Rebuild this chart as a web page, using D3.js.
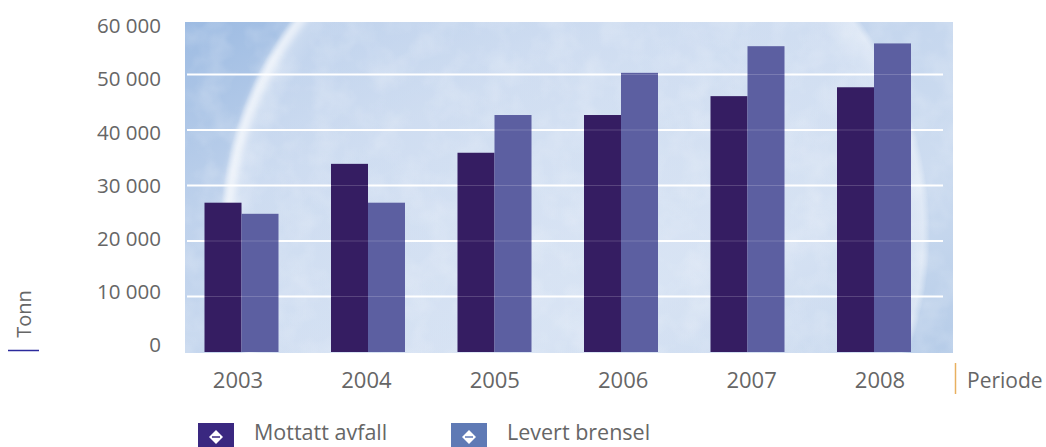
<!DOCTYPE html>
<html><head><meta charset="utf-8">
<script src="https://cdn.jsdelivr.net/npm/d3@7"></script>
<style>
html,body{margin:0;padding:0;background:#fff;}
svg{display:block;font-family:"Open Sans","Noto Sans",sans-serif;}
</style></head>
<body>
<svg id="c" width="1046" height="447"></svg>
<script>
const years = ["2003","2004","2005","2006","2007","2008"];
const mottatt = [26900, 33900, 35900, 42700, 46100, 47700];
const levert = [24900, 26900, 42700, 50300, 55100, 55600];
const seriesNames = ["Mottatt avfall", "Levert brensel"];
const yTicks = [0, 10000, 20000, 30000, 40000, 50000, 60000];
const yTickLabels = ["0", "10 000", "20 000", "30 000", "40 000", "50 000", "60 000"];

const svg = d3.select("#c");
const defs = svg.append("defs");

const sky = defs.append("linearGradient").attr("id","sky").attr("x1","0").attr("y1","0").attr("x2","1").attr("y2","1");
sky.append("stop").attr("offset","0").attr("stop-color","#9dbbe2");
sky.append("stop").attr("offset","0.3").attr("stop-color","#bfd2ec");
sky.append("stop").attr("offset","0.7").attr("stop-color","#cddcf0");
sky.append("stop").attr("offset","1").attr("stop-color","#b6cce8");
const moonG = defs.append("radialGradient").attr("id","moon");
moonG.append("stop").attr("offset","0").attr("stop-color","#e6edf8").attr("stop-opacity",0.5);
moonG.append("stop").attr("offset","0.9").attr("stop-color","#dfe8f6").attr("stop-opacity",0.45);
moonG.append("stop").attr("offset","0.98").attr("stop-color","#f2f6fc").attr("stop-opacity",0.55);
moonG.append("stop").attr("offset","1").attr("stop-color","#ffffff").attr("stop-opacity",0);
const rim = defs.append("linearGradient").attr("id","rim").attr("x1","0").attr("y1","0").attr("x2","1").attr("y2","0.4");
rim.append("stop").attr("offset","0").attr("stop-color","#ffffff").attr("stop-opacity",0.75);
rim.append("stop").attr("offset","0.45").attr("stop-color","#ffffff").attr("stop-opacity",0.2);
rim.append("stop").attr("offset","0.8").attr("stop-color","#ffffff").attr("stop-opacity",0);
const f = defs.append("filter").attr("id","cloud").attr("x","0").attr("y","0").attr("width","1").attr("height","1");
f.append("feTurbulence").attr("type","fractalNoise").attr("baseFrequency","0.035").attr("numOctaves",3).attr("seed",4).attr("result","n");
f.append("feColorMatrix").attr("in","n").attr("type","matrix")
  .attr("values","0 0 0 0 1  0 0 0 0 1  0 0 0 0 1  0 0 0 0.9 -0.35").attr("result","w");
f.append("feComposite").attr("in","w").attr("in2","SourceGraphic").attr("operator","in");
const blur = defs.append("filter").attr("id","soft");
blur.append("feGaussianBlur").attr("stdDeviation",3);
const clip = defs.append("clipPath").attr("id","pa");

const y = d3.scaleLinear().domain([0, 60000]).range([352, 19]);
const yLab = d3.scaleLinear().domain([0, 60000]).range([345, 26]);
const x0 = d3.scaleBand().domain(years).range([178.25, 937.25]).paddingInner(0.415).paddingOuter(0.2075);
const x1 = d3.scaleBand().domain(seriesNames).range([0, x0.bandwidth()]);
const xLab = d3.scalePoint().domain(years).range([238, 880]);

const plotL = 185, plotR = 953, plotT = 22, plotB = y(0);
clip.append("rect").attr("x",plotL).attr("y",plotT).attr("width",plotR-plotL).attr("height",plotB-plotT+1);

const bg = svg.append("g").attr("clip-path","url(#pa)");
bg.append("rect").attr("x",plotL).attr("y",plotT).attr("width",plotR-plotL).attr("height",plotB-plotT+1).attr("fill","url(#sky)");
bg.append("circle").attr("cx",575).attr("cy",232).attr("r",355).attr("fill","url(#moon)");
bg.append("circle").attr("cx",575).attr("cy",232).attr("r",347).attr("fill","none").attr("stroke","url(#rim)").attr("stroke-width",10).attr("filter","url(#soft)");
bg.append("rect").attr("x",plotL).attr("y",plotT).attr("width",plotR-plotL).attr("height",plotB-plotT+1).attr("fill","#fff").attr("filter","url(#cloud)").attr("opacity",0.45);

const inner = yTicks.filter(d => d > 0 && d < 60000);
svg.append("g").selectAll("line").data(inner).join("line")
  .attr("x1",187).attr("x2",943).attr("y1",d=>y(d)).attr("y2",d=>y(d))
  .attr("stroke","#ffffff").attr("stroke-width",2);

const colors = {"Mottatt avfall":"#351d62","Levert brensel":"#5c5fa1"};
const data = years.map((yr,i) => ({year:yr, vals:[{k:seriesNames[0], v:mottatt[i]},{k:seriesNames[1], v:levert[i]}]}));
const groups = svg.append("g").selectAll("g").data(data).join("g")
  .attr("transform", d => `translate(${x0(d.year)},0)`);
groups.selectAll("rect").data(d => d.vals).join("rect")
  .attr("x", d => x1(d.k)).attr("width", x1.bandwidth())
  .attr("y", d => y(d.v)).attr("height", d => y(0) - y(d.v))
  .attr("fill", d => colors[d.k]);

svg.append("g").selectAll("line").data(inner).join("line")
  .attr("x1",187).attr("x2",943).attr("y1",d=>y(d)).attr("y2",d=>y(d))
  .attr("stroke","#ffffff").attr("stroke-opacity",0.18).attr("stroke-width",1);

svg.append("g").selectAll("text").data(yTicks).join("text")
  .attr("x",161).attr("y",d=>yLab(d)).attr("dy","0.35em").attr("text-anchor","end")
  .attr("font-size",20.5).attr("fill","#666666").text((d,i)=>yTickLabels[i]);

svg.append("g").selectAll("text").data(years).join("text")
  .attr("x",d=>xLab(d)).attr("y",387.5).attr("text-anchor","middle")
  .attr("font-size",22).attr("fill","#666666").text(d=>d);

svg.append("line").attr("x1",955.5).attr("x2",955.5).attr("y1",363).attr("y2",394).attr("stroke","#e8b060").attr("stroke-width",1.5);
svg.append("text").attr("x",967).attr("y",387.5).attr("font-size",21).attr("fill","#666666").text("Periode");
svg.append("line").attr("x1",8).attr("x2",39).attr("y1",350.5).attr("y2",350.5).attr("stroke","#2b2a9c").attr("stroke-width",1.5);
svg.append("text").attr("transform","translate(24,314) rotate(-90)").attr("dy","0.35em").attr("text-anchor","middle")
  .attr("font-size",20).attr("fill","#666666").text("Tonn");

const legColors = ["#3a2880","#5f7ab5"];
const legX = [198, 451];
const leg = svg.append("g").selectAll("g").data(seriesNames).join("g")
  .attr("transform",(d,i)=>`translate(${legX[i]},423)`);
leg.append("rect").attr("width",36).attr("height",26).attr("fill",(d,i)=>legColors[i]);
leg.append("path").attr("d","M18,7 L25,14 L18,21 L11,14 Z").attr("fill","#ffffff");
leg.append("line").attr("x1",14).attr("x2",22).attr("y1",14).attr("y2",14).attr("stroke",(d,i)=>legColors[i]).attr("stroke-width",1.5);
leg.append("text").attr("x",56).attr("y",17).attr("font-size",21.5).attr("fill","#666666").text(d=>d);
</script>
</body></html>
